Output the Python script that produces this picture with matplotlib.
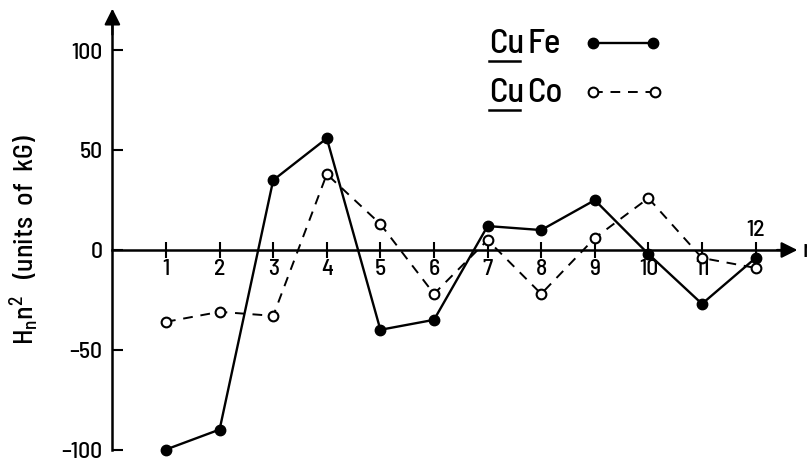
import matplotlib
matplotlib.use("Agg")
import matplotlib.pyplot as plt
from matplotlib import font_manager

# Harmonic index n and the two measured series
n = [1, 2, 3, 4, 5, 6, 7, 8, 9, 10, 11, 12]
cufe = [-100, -90, 35, 56, -40, -35, 12, 10, 25, -2, -27, -4]
cuco = [-36, -31, -33, 38, 13, -22, 5, -22, 6, 26, -4, -9]
y_ticks = [-100, -50, 0, 50, 100]

names = {f.name for f in font_manager.fontManager.ttflist}
families = [f for f in ["Barlow Semi Condensed", "Roboto Condensed",
                        "Archivo Narrow"] if f in names] + ["DejaVu Sans"]
plt.rcParams["font.family"] = families
plt.rcParams["font.weight"] = 500
plt.rcParams["mathtext.fontset"] = "custom"
plt.rcParams["mathtext.rm"] = families[0]
plt.rcParams["mathtext.it"] = families[0]

W, H = 807, 461
fig = plt.figure(figsize=(W / 100, H / 100), dpi=100)
ax = fig.add_axes([0, 0, 1, 1])

# pixel geometry of the plotting frame
x0_px, dx_px = 112.4, 53.6
y0_px, dy_px = 250.0, 1.995
ax.set_xlim(-x0_px / dx_px, (W - x0_px) / dx_px)
ax.set_ylim(-(H - y0_px) / dy_px, y0_px / dy_px)

for s in ("top", "right"):
    ax.spines[s].set_visible(False)
ax.spines["left"].set_position(("data", 0))
ax.spines["bottom"].set_position(("data", 0))
ax.spines["left"].set_linewidth(1.8)
ax.spines["bottom"].set_linewidth(1.8)
ax.spines["left"].set_bounds(-100, 118)
ax.spines["bottom"].set_bounds(0, 12.6)

# arrow heads on both axes
ax.annotate("", xy=(0, 121), xytext=(0, 108),
            arrowprops=dict(arrowstyle="-|>", color="black", lw=1.6,
                            mutation_scale=24, shrinkA=0, shrinkB=0))
ax.annotate("", xy=(12.78, 0), xytext=(12.4, 0),
            arrowprops=dict(arrowstyle="-|>", color="black", lw=1.6,
                            mutation_scale=24, shrinkA=0, shrinkB=0))
ax.text(12.88, 0, "n", fontsize=18, va="center", ha="left")

ax.set_yticks(y_ticks)
ax.set_yticklabels([f"{v:d}".replace("-", "\u2013") for v in y_ticks])
ax.tick_params(axis="y", direction="in", length=8, width=1.5,
               labelsize=17, pad=7)
ax.set_xticks(n)
ax.set_xticklabels([str(v) if v != 12 else "" for v in n])
ax.tick_params(axis="x", direction="inout", length=11, width=1.5,
               labelsize=17, pad=1)
ax.text(12, 5, "12", fontsize=17, ha="center", va="bottom")

# the two series
ax.plot(n, cufe, color="black", lw=1.7, marker="o", ms=7.5,
        markerfacecolor="black", zorder=3)
ax.plot(n, cuco, color="black", lw=1.4, ls=(0, (5, 4)), marker="o", ms=7,
        markerfacecolor="white", markeredgewidth=1.5, zorder=3)

# y-axis title
fig.text(25 / W, 1 - 240 / H, r"$\mathregular{H_n n^2}$   (units  of  kG)",
         rotation=90, fontsize=20, ha="center", va="center")

# key
def key_entry(y_px, metal, filled):
    fy = 1 - y_px / H
    fig.text(489 / W, fy, "Cu", fontsize=25, ha="left", va="baseline")
    fig.text(527 / W, fy, metal, fontsize=25, ha="left", va="baseline")
    uy = 1 - (y_px + 8) / H
    fig.add_artist(plt.Line2D([489 / W, 520 / W], [uy, uy], color="black",
                              lw=1.8, transform=fig.transFigure))
    ly = 1 - (y_px - 10) / H
    if filled:
        fig.add_artist(plt.Line2D([593 / W, 653 / W], [ly, ly], color="black",
                                  lw=1.7, marker="o", ms=7.5,
                                  markerfacecolor="black",
                                  transform=fig.transFigure))
    else:
        fig.add_artist(plt.Line2D([593 / W, 655 / W], [ly, ly], color="black",
                                  lw=1.4, ls=(0, (5, 4)), marker="o", ms=7,
                                  markerfacecolor="white",
                                  markeredgewidth=1.5,
                                  transform=fig.transFigure))

key_entry(53, "Fe", True)
key_entry(102, "Co", False)

fig.savefig("out.png", dpi=100)
